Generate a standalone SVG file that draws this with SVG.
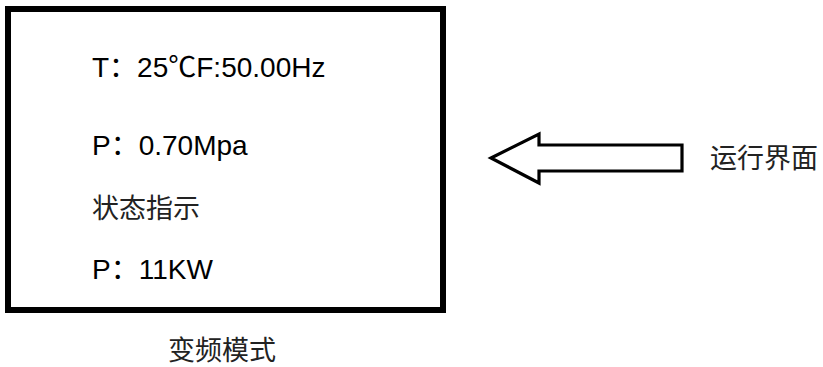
<svg xmlns="http://www.w3.org/2000/svg" width="823" height="367" viewBox="0 0 823 367">
<style>
.t{font-family:"Liberation Sans","Noto Sans CJK SC",sans-serif;font-size:28px;fill:#000}
.c{font-family:"Noto Sans CJK SC",sans-serif;font-size:27px;fill:#222}
</style>
<rect width="823" height="367" fill="#fff"/>
<g id="screen">
<rect x="8" y="9" width="435" height="301" fill="#fff" stroke="#000" stroke-width="6"/>
<text class="t" x="92" y="77">T：25℃F:50.00Hz</text>
<text class="t" x="92" y="155">P：0.70Mpa</text>
<text class="c" x="92" y="218">状态指示</text>
<text class="t" x="92" y="279">P：11KW</text>
</g>
<g id="caption">
<text class="c" x="168" y="360">变频模式</text>
</g>
<g id="connectors">
<polygon points="491,158 539,134 539,145 682,145 682,171 539,171 539,183" fill="#fff" stroke="#000" stroke-width="3.2"/>
</g>
<g id="label">
<text class="c" x="710" y="168">运行界面</text>
</g>
</svg>
